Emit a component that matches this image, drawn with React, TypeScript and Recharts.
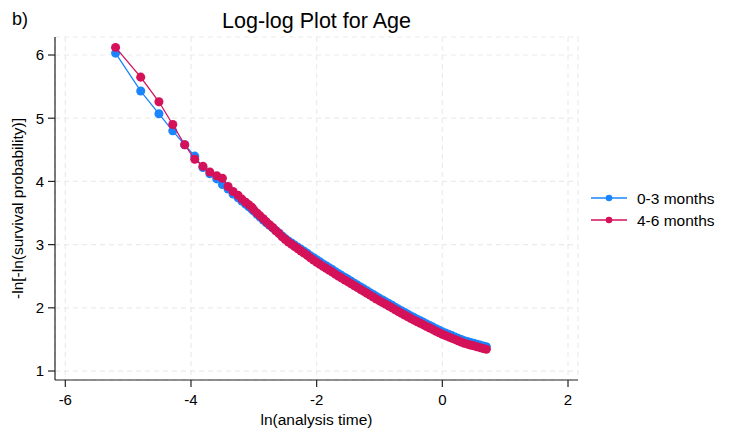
import React from 'react';
import { ScatterChart, Scatter, XAxis, YAxis, ZAxis, CartesianGrid, Label } from 'recharts';

const seriesNames = ['0-3 months', '4-6 months'];
const seriesColors = ['#1a85ff', '#d41159'];

const xTicks = [-6, -4, -2, 0, 2];
const yTicks = [1, 2, 3, 4, 5, 6];

const lnTime = [
  -5.20, -4.80, -4.51, -4.29, -4.10, -3.94, -3.81, -3.70, -3.59, -3.50, -3.41, -3.33, -3.25, -3.19, -3.13, -3.08, -3.03,
  -3.00, -2.95, -2.90, -2.85, -2.80, -2.75, -2.70, -2.65, -2.60, -2.55, -2.50, -2.45, -2.40, -2.35, -2.30, -2.25,
  -2.20, -2.15, -2.10, -2.05, -2.00, -1.95, -1.90, -1.85, -1.80, -1.75, -1.70, -1.65, -1.60, -1.55, -1.50, -1.45,
  -1.40, -1.35, -1.30, -1.25, -1.20, -1.15, -1.10, -1.05, -1.00, -0.95, -0.90, -0.85, -0.80, -0.75, -0.70, -0.65,
  -0.60, -0.55, -0.50, -0.45, -0.40, -0.35, -0.30, -0.25, -0.20, -0.15, -0.10, -0.05, 0.00, 0.05, 0.10, 0.15,
  0.20, 0.25, 0.30, 0.35, 0.40, 0.45, 0.50, 0.55, 0.60, 0.65, 0.70,
];

const months0to3 = [
  6.03, 5.43, 5.07, 4.80, 4.58, 4.40, 4.22, 4.12, 4.04, 3.95, 3.88, 3.80, 3.74, 3.69, 3.64, 3.60, 3.56,
  3.53, 3.48, 3.435, 3.39, 3.345, 3.305, 3.265, 3.222, 3.185, 3.138, 3.095, 3.058, 3.025, 2.992, 2.96, 2.928,
  2.895, 2.862, 2.825, 2.793, 2.76, 2.73, 2.695, 2.665, 2.635, 2.605, 2.57, 2.54, 2.51, 2.48, 2.45, 2.42,
  2.39, 2.36, 2.33, 2.30, 2.27, 2.24, 2.21, 2.18, 2.15, 2.123, 2.095, 2.067, 2.04, 2.01, 1.98, 1.953,
  1.926, 1.898, 1.87, 1.845, 1.82, 1.795, 1.77, 1.745, 1.72, 1.695, 1.67, 1.645, 1.62, 1.60, 1.58, 1.56,
  1.54, 1.52, 1.50, 1.48, 1.465, 1.45, 1.44, 1.425, 1.41, 1.395, 1.385,
];

const months4to6 = [
  6.12, 5.65, 5.26, 4.90, 4.58, 4.35, 4.24, 4.15, 4.09, 4.05, 3.92, 3.84, 3.78, 3.72, 3.67, 3.63, 3.59,
  3.55, 3.50, 3.455, 3.41, 3.36, 3.315, 3.27, 3.22, 3.175, 3.125, 3.08, 3.04, 3.005, 2.97, 2.935, 2.90,
  2.865, 2.83, 2.79, 2.755, 2.72, 2.69, 2.655, 2.625, 2.595, 2.565, 2.53, 2.50, 2.47, 2.44, 2.41, 2.38,
  2.35, 2.32, 2.29, 2.26, 2.23, 2.20, 2.17, 2.14, 2.11, 2.083, 2.055, 2.027, 2.00, 1.97, 1.94, 1.913,
  1.886, 1.858, 1.83, 1.805, 1.78, 1.755, 1.73, 1.705, 1.68, 1.655, 1.63, 1.605, 1.58, 1.56, 1.54, 1.52,
  1.50, 1.48, 1.46, 1.44, 1.425, 1.41, 1.40, 1.385, 1.37, 1.355, 1.345,
];

const seriesValues = [months0to3, months4to6];

const FONT = '"Liberation Sans", Arial, Helvetica, sans-serif';

const YTitle = (props: any) => {
  const vb = props.viewBox || {};
  const cy = (vb.y ?? 0) + (vb.height ?? 0) / 2;
  const cx = 17;
  return (
    <text
      x={cx}
      y={cy}
      transform={`rotate(-90 ${cx} ${cy})`}
      textAnchor="middle"
      dominantBaseline="central"
      fontSize={15.5}
      fontFamily={FONT}
      fill="#000"
    >
      -ln[-ln(survival probability)]
    </text>
  );
};

export default function App() {
  const datasets = seriesValues.map((vals) => lnTime.map((x, i) => ({ x, y: vals[i] })));
  return (
    <div style={{ position: 'absolute', left: 0, top: 0, width: 736, height: 435, background: '#fff' }}>
      <ScatterChart width={736} height={435} margin={{ top: 37, right: 158, bottom: 0, left: 0 }}>
        <CartesianGrid stroke="#ebebeb" strokeDasharray="5 4" strokeWidth={1.2} />
        <XAxis
          type="number"
          dataKey="x"
          domain={[-6.164, 2.159]}
          ticks={xTicks}
          allowDataOverflow
          height={55}
          tickSize={7}
          tickMargin={7}
          axisLine={{ stroke: '#222', strokeWidth: 1.2 }}
          tickLine={{ stroke: '#222', strokeWidth: 1.2 }}
          tick={{ fill: '#000', fontSize: 15, fontFamily: FONT }}
        >
          <Label value="ln(analysis time)" position="insideBottom" offset={10} fontSize={15.5} fontFamily={FONT} fill="#000" />
        </XAxis>
        <YAxis
          type="number"
          dataKey="y"
          domain={[0.858, 6.285]}
          ticks={yTicks}
          allowDataOverflow
          width={55}
          tickSize={7}
          tickMargin={4}
          axisLine={{ stroke: '#222', strokeWidth: 1.2 }}
          tickLine={{ stroke: '#222', strokeWidth: 1.2 }}
          tick={{ fill: '#000', fontSize: 15, fontFamily: FONT }}
        >
          <Label content={<YTitle />} />
        </YAxis>
        <ZAxis range={[36, 36]} />
        {datasets.map((d, i) => (
          <Scatter
            key={seriesNames[i]}
            name={seriesNames[i]}
            data={d}
            fill={seriesColors[i]}
            line={{ stroke: seriesColors[i], strokeWidth: 1.3 }}
            shape="circle"
            isAnimationActive={false}
          />
        ))}
      </ScatterChart>
      <svg width={736} height={435} style={{ position: 'absolute', left: 0, top: 0, pointerEvents: 'none' }}>
        <text x={12} y={25} fontSize={18} fontFamily={FONT} fill="#000">b)</text>
        <text x={316.5} y={28} textAnchor="middle" fontSize={21.5} fontFamily={FONT} fill="#000">Log-log Plot for Age</text>
        {seriesNames.map((name, i) => (
          <g key={name}>
            <line x1={591} x2={627} y1={198 + i * 22} y2={198 + i * 22} stroke={seriesColors[i]} strokeWidth={1.5} />
            <circle cx={609} cy={198 + i * 22} r={3.3} fill={seriesColors[i]} />
            <text x={637} y={203.5 + i * 22} fontSize={15.5} fontFamily={FONT} fill="#000">{name}</text>
          </g>
        ))}
      </svg>
    </div>
  );
}
